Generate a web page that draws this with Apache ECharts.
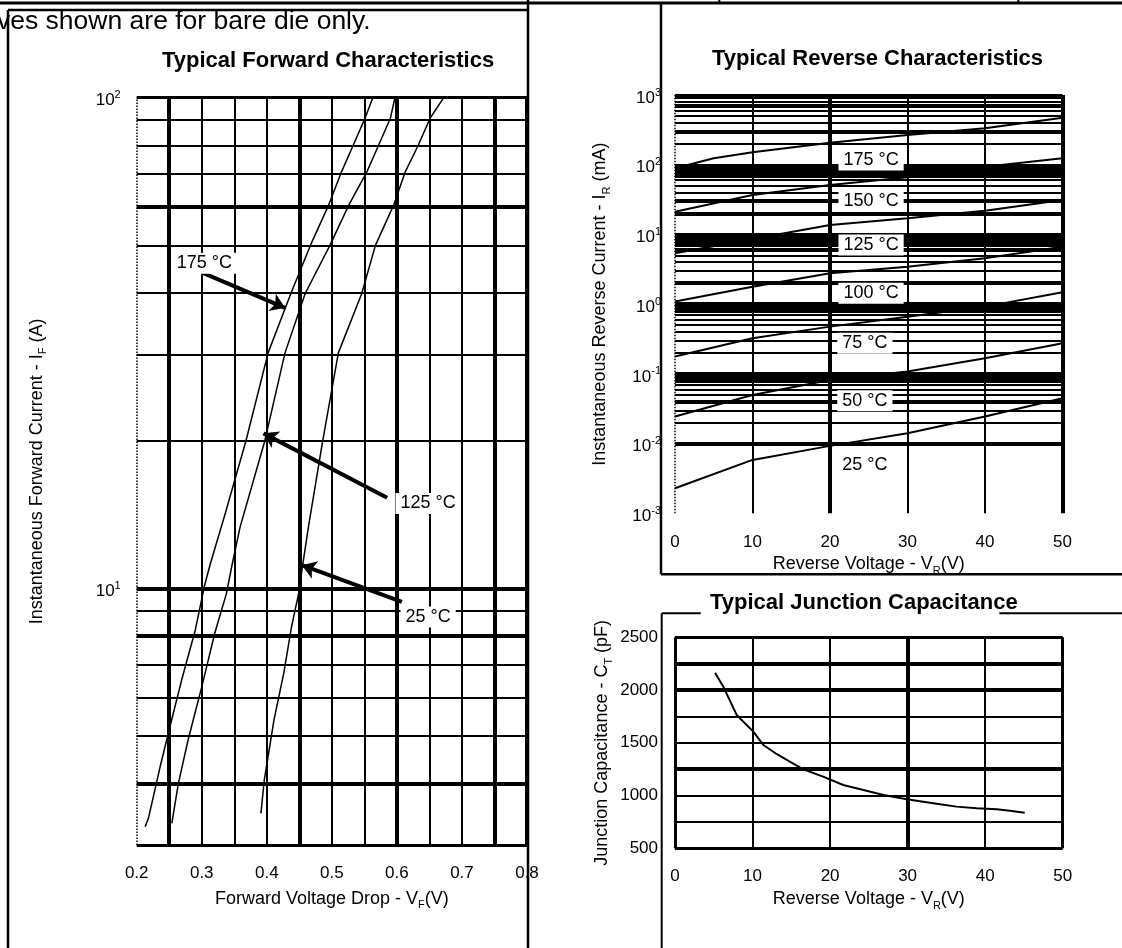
<!DOCTYPE html>
<html><head><meta charset="utf-8">
<script src="https://cdn.jsdelivr.net/npm/echarts/dist/echarts.min.js"></script>
<style>html,body{margin:0;padding:0;background:#fff}#c{width:1122px;height:948px}</style>
</head><body><div id="c"></div>
<script>
const FONT = "'Liberation Sans', Arial, Helvetica, sans-serif";

// ---------------- Typical Forward Characteristics ----------------
const fwdVoltGrid   = [0.25, 0.3, 0.35, 0.4, 0.45, 0.5, 0.55, 0.6, 0.65, 0.7, 0.75];
const fwdVoltThick  = [0.25, 0.45, 0.6, 0.75];
const fwdAmpGrid    = [4, 5, 6, 7, 8, 9, 10, 20, 30, 40, 50, 60, 70, 80, 90];
const fwdAmpThick   = [4, 8, 10, 60];

const fwd175Volt = [0.213, 0.218, 0.236, 0.251, 0.269, 0.290, 0.304, 0.313, 0.336, 0.368, 0.402, 0.437, 0.467, 0.495, 0.515, 0.533, 0.551, 0.563];
const fwd175Amp  = [3.27, 3.4, 4.33, 5.22, 6.5, 8.22, 10.1, 11.2, 14.2, 20, 30.2, 39.9, 50, 60.4, 70.7, 80.1, 90.8, 100];
const fwd125Volt = [0.254, 0.264, 0.279, 0.300, 0.320, 0.338, 0.346, 0.359, 0.397, 0.428, 0.459, 0.497, 0.526, 0.554, 0.572, 0.590, 0.597];
const fwd125Amp  = [3.32, 4.0, 4.91, 6.3, 8.1, 9.77, 11.07, 13.35, 20, 30.2, 39.9, 50, 60.4, 70.7, 80.1, 90.8, 100];
const fwd25Volt  = [0.391, 0.396, 0.411, 0.426, 0.438, 0.449, 0.454, 0.464, 0.486, 0.510, 0.546, 0.567, 0.595, 0.613, 0.633, 0.651, 0.672];
const fwd25Amp   = [3.48, 4.06, 5.39, 6.71, 8.35, 9.77, 10.9, 13.35, 20, 30.2, 39.9, 50, 60.4, 70.7, 80.1, 90.8, 100];

const fwdLabelText = ['175 °C', '125 °C', '25 °C'];
const fwdLabelAt   = [[0.304, 46.0], [0.648, 14.9], [0.648, 8.74]];
const fwdArrowFrom = [[0.3025, 43.9], [0.585, 15.3], [0.6077, 9.39]];
const fwdArrowTo   = [[0.428, 37.3], [0.395, 20.7], [0.454, 11.15]];

// ---------------- Typical Reverse Characteristics ----------------
const revVoltGrid  = [10, 20, 30, 40];
const revVoltThick = [20];
const revCurGrid = [
  0.002, 0.003, 0.004, 0.005, 0.006, 0.007, 0.008, 0.009, 0.01,
  0.02, 0.03, 0.04, 0.05, 0.06, 0.07, 0.08, 0.09, 0.1,
  0.2, 0.3, 0.4, 0.5, 0.6, 0.7, 0.8, 0.9, 1,
  2, 3, 4, 5, 6, 7, 8, 9, 10,
  20, 30, 40, 50, 60, 70, 80, 90, 100,
  200, 300, 400, 500, 600, 700, 800, 900
];
const revCurThick = [0.004, 0.009, 0.01, 0.04, 0.08, 0.09, 0.1, 0.8, 0.9, 1, 2, 6, 7, 8, 9, 10, 20, 30, 70, 80, 90, 300, 700];

const rev175Volt = [0, 5, 10, 20, 30, 40, 50];
const rev175Cur  = [88.8, 123.6, 151, 207, 267, 333, 473];
const revVolt    = [0, 10, 20, 30, 40, 50];
const rev150Cur  = [21.2, 36.8, 51.2, 66, 93.8, 123.6];
const rev125Cur  = [5.36, 8.6, 13.7, 17.0, 21.9, 31.2];
const rev100Cur  = [1.09, 1.78, 2.77, 3.45, 4.55, 6.68];
const rev75Cur   = [0.177, 0.324, 0.476, 0.662, 0.922, 1.48];
const rev50Cur   = [0.0244, 0.0499, 0.0819, 0.108, 0.168, 0.275];
const rev25Cur   = [0.00229, 0.00583, 0.00927, 0.0141, 0.0244, 0.0447];

const revLabelText = ['175 °C', '150 °C', '125 °C', '100 °C', '75 °C', '50 °C', '25 °C'];
const revLabelAt   = [[25.3, 117], [25.3, 30.2], [25.3, 7.06], [25.3, 1.43], [24.5, 0.275], [24.5, 0.0412], [24.5, 0.00493]];

// ---------------- Typical Junction Capacitance ----------------
const capVoltGrid  = [10, 20, 30, 40];
const capVoltThick = [30];
const capPfGrid    = [750, 1000, 1250, 1500, 1750, 2000, 2250];
const capPfThick   = [1250, 2000, 2250];
const capVolt = [5.16, 6.23, 7.95, 10.1, 11.4, 13.1, 14.8, 16.55, 19.1, 21.7, 24.3, 26.9, 29.9, 32.0, 34.2, 36.3, 38.9, 41.5, 43.2, 45.1];
const capPf   = [2165, 2032, 1764, 1606, 1479, 1394, 1321, 1249, 1179, 1100, 1053, 1006, 965, 942, 917, 895, 879, 870, 857, 838];

// ---------------- helpers ----------------
const zip = (xs, ys) => xs.map((x, i) => [x, ys[i]]);
const THIN = 2, THICK = 4;
function vLines(vals, thick) { return vals.map(v => ({ xAxis: v, lineStyle: { width: thick.includes(v) ? THICK : THIN } })); }
function hLines(vals, thick) { return vals.map(v => ({ yAxis: v, lineStyle: { width: thick.includes(v) ? THICK : THIN } })); }
function gridSeries(idx, lines) {
  return {
    type: 'line', xAxisIndex: idx, yAxisIndex: idx, data: [], silent: true, z: 1, clip: false,
    markLine: { silent: true, symbol: ['none', 'none'], label: { show: false }, animation: false,
      lineStyle: { color: '#000', type: 'solid', width: THIN }, emphasis: { disabled: true }, data: lines }
  };
}
function curve(idx, data, w) {
  return { type: 'line', xAxisIndex: idx, yAxisIndex: idx, data, showSymbol: false, symbol: 'none', silent: true, z: 3, clip: false,
    lineStyle: { color: '#000', width: w }, animation: false };
}
function labels(idx, at, texts) {
  return { type: 'scatter', xAxisIndex: idx, yAxisIndex: idx, symbolSize: 0, silent: true, z: 6, clip: false, animation: false,
    itemStyle: { opacity: 1, color: '#fff' },
    data: at.map((p, i) => [p[0], p[1], texts[i]]),
    label: { show: true, position: 'inside', formatter: p => p.data[2], color: '#000', opacity: 1, fontSize: 18, fontFamily: FONT,
      backgroundColor: '#fff', padding: [2, 5, 1, 5] } };
}
const supRich = {
  b: { fontSize: 17, fontFamily: FONT, color: '#000', lineHeight: 22 },
  s: { fontSize: 11, fontFamily: FONT, color: '#000', lineHeight: 12, verticalAlign: 'top' }
};
function powLabel(v) {
  const n = Math.log10(v);
  if (Math.abs(n - Math.round(n)) > 1e-6) return '';
  return '{b|10}{s|' + Math.round(n) + '}';
}
const nameStyle = { fontSize: 18, fontFamily: FONT, color: '#000', lineHeight: 24,
  rich: { sub: { fontSize: 11, fontFamily: FONT, color: '#000', lineHeight: 12, verticalAlign: 'bottom' } } };
const tickStyle = { fontSize: 17, fontFamily: FONT, color: '#000' };
const hideAxisBits = { axisLine: { show: false }, axisTick: { show: false }, splitLine: { show: false } };

const fwdGridLines = [
  ...vLines(fwdVoltGrid, fwdVoltThick), ...hLines(fwdAmpGrid, fwdAmpThick),
  { xAxis: 0.2, lineStyle: { width: 1.5, type: 'dotted' } }, { xAxis: 0.8, lineStyle: { width: 4 } },
  { yAxis: 3, lineStyle: { width: 3 } }, { yAxis: 100, lineStyle: { width: 3 } }
];
const revGridLines = [
  ...vLines(revVoltGrid, revVoltThick), ...hLines(revCurGrid, revCurThick),
  { xAxis: 0, lineStyle: { width: 1.5, type: 'dotted' } }, { xAxis: 50, lineStyle: { width: 4 } },
  { yAxis: 0.001, lineStyle: { width: 3 } }, { yAxis: 1000, lineStyle: { width: 3 } }
];
const capGridLines = [
  ...vLines(capVoltGrid, capVoltThick), ...hLines(capPfGrid, capPfThick),
  { xAxis: 0, lineStyle: { width: 3 } }, { xAxis: 50, lineStyle: { width: 3 } },
  { yAxis: 500, lineStyle: { width: 3 } }, { yAxis: 2500, lineStyle: { width: 3 } }
];

const arrowSeries = {
  type: 'line', xAxisIndex: 0, yAxisIndex: 0, data: [], silent: true, z: 5, clip: false,
  markLine: { silent: true, symbol: ['none', 'arrow'], symbolSize: 14, label: { show: false }, animation: false,
    lineStyle: { color: '#000', type: 'solid', width: 4 }, itemStyle: { color: '#000' },
    data: fwdArrowFrom.map((f, i) => [{ coord: f }, { coord: fwdArrowTo[i] }]) }
};

const chart = echarts.init(document.getElementById('c'), null, { renderer: 'canvas' });
const titleStyle = { fontSize: 22, fontWeight: 'bold', fontFamily: FONT, color: '#000' };
chart.setOption({
  backgroundColor: '#fff',
  animation: false,
  title: [
    { text: 'Typical Forward Characteristics', left: 162, top: 50, padding: 0, textStyle: titleStyle },
    { text: 'Typical Reverse Characteristics', left: 712, top: 48, padding: 0, textStyle: titleStyle },
    { text: 'Typical Junction Capacitance', left: 710, top: 592, padding: 0, textStyle: titleStyle }
  ],
  grid: [
    { left: 136.7, top: 97.7, width: 390.3, height: 747.3, containLabel: false, outerBoundsMode: 'none' },
    { left: 675, top: 95, width: 387.5, height: 418.3, containLabel: false, outerBoundsMode: 'none' },
    { left: 675, top: 637.3, width: 387.7, height: 211, containLabel: false, outerBoundsMode: 'none' }
  ],
  xAxis: [
    { gridIndex: 0, type: 'value', min: 0.2, max: 0.8, interval: 0.1, ...hideAxisBits,
      axisLabel: { ...tickStyle, margin: 20, formatter: v => v.toFixed(1) },
      name: 'Forward Voltage Drop - V{sub|F}(V)', nameLocation: 'middle', nameGap: 40, nameTextStyle: nameStyle },
    { gridIndex: 1, type: 'value', min: 0, max: 50, interval: 10, ...hideAxisBits,
      axisLabel: { ...tickStyle, margin: 21, formatter: v => String(v) },
      name: 'Reverse Voltage - V{sub|R}(V)', nameLocation: 'middle', nameGap: 38, nameTextStyle: nameStyle },
    { gridIndex: 2, type: 'value', min: 0, max: 50, interval: 10, ...hideAxisBits,
      axisLabel: { ...tickStyle, margin: 20, formatter: v => String(v) },
      name: 'Reverse Voltage - V{sub|R}(V)', nameLocation: 'middle', nameGap: 39, nameTextStyle: nameStyle }
  ],
  yAxis: [
    { gridIndex: 0, type: 'log', logBase: 10, min: 3, max: 100, ...hideAxisBits,
      axisLabel: { margin: 16, padding: [6, 0, 0, 0], formatter: powLabel, rich: supRich, showMinLabel: false },
      name: 'Instantaneous Forward Current - I{sub|F} (A)', nameLocation: 'middle', nameGap: 88, nameTextStyle: nameStyle },
    { gridIndex: 1, type: 'log', logBase: 10, min: 0.001, max: 1000, splitNumber: 6, ...hideAxisBits,
      axisLabel: { margin: 14, padding: [6, 0, 0, 0], formatter: powLabel, rich: supRich },
      name: 'Instantaneous Reverse Current - I{sub|R} (mA)', nameLocation: 'middle', nameGap: 63, nameTextStyle: nameStyle },
    { gridIndex: 2, type: 'value', min: 500, max: 2500, interval: 500, ...hideAxisBits,
      axisLabel: { ...tickStyle, margin: 17, padding: [7, 0, 0, 0], formatter: v => String(v) },
      name: 'Junction Capacitance - C{sub|T} (pF)', nameLocation: 'middle', nameGap: 61, nameTextStyle: nameStyle }
  ],
  series: [
    gridSeries(0, fwdGridLines),
    curve(0, zip(fwd175Volt, fwd175Amp), 1.5),
    curve(0, zip(fwd125Volt, fwd125Amp), 1.5),
    curve(0, zip(fwd25Volt, fwd25Amp), 1.5),
    arrowSeries,
    labels(0, fwdLabelAt, fwdLabelText),

    gridSeries(1, revGridLines),
    curve(1, zip(rev175Volt, rev175Cur), 2),
    curve(1, zip(revVolt, rev150Cur), 2),
    curve(1, zip(revVolt, rev125Cur), 2),
    curve(1, zip(revVolt, rev100Cur), 2),
    curve(1, zip(revVolt, rev75Cur), 2),
    curve(1, zip(revVolt, rev50Cur), 2),
    curve(1, zip(revVolt, rev25Cur), 2),
    labels(1, revLabelAt, revLabelText),

    gridSeries(2, capGridLines),
    curve(2, zip(capVolt, capPf), 2)
  ],
  graphic: [
    { type: 'line', silent: true, shape: { x1: 0, y1: 3, x2: 1122, y2: 3 }, style: { stroke: '#000', lineWidth: 3 } },
    { type: 'line', silent: true, shape: { x1: 719.3, y1: 0, x2: 719.3, y2: 4 }, style: { stroke: '#000', lineWidth: 2 } },
    { type: 'line', silent: true, shape: { x1: 1018.3, y1: 0, x2: 1018.3, y2: 4 }, style: { stroke: '#000', lineWidth: 2 } },
    // left panel frame
    { type: 'line', silent: true, shape: { x1: 8, y1: 10, x2: 528, y2: 10 }, style: { stroke: '#000', lineWidth: 2.5 } },
    { type: 'line', silent: true, shape: { x1: 8, y1: 10, x2: 8, y2: 948 }, style: { stroke: '#000', lineWidth: 2.5 } },
    { type: 'line', silent: true, shape: { x1: 528, y1: 0, x2: 528, y2: 948 }, style: { stroke: '#000', lineWidth: 2.5 } },
    // right upper panel frame
    { type: 'line', silent: true, shape: { x1: 661, y1: 4, x2: 661, y2: 574.3 }, style: { stroke: '#000', lineWidth: 2.5 } },
    { type: 'line', silent: true, shape: { x1: 661, y1: 574.3, x2: 1122, y2: 574.3 }, style: { stroke: '#000', lineWidth: 2.5 } },
    // right lower panel frame
    { type: 'line', silent: true, shape: { x1: 661.7, y1: 613.3, x2: 661.7, y2: 948 }, style: { stroke: '#000', lineWidth: 2 } },
    { type: 'line', silent: true, shape: { x1: 661.7, y1: 613.3, x2: 700.7, y2: 613.3 }, style: { stroke: '#000', lineWidth: 2 } },
    { type: 'line', silent: true, shape: { x1: 999.3, y1: 613.3, x2: 1122, y2: 613.3 }, style: { stroke: '#000', lineWidth: 2 } },
    { type: 'text', silent: true, x: -3, y: 21.5, z: 10,
      style: { text: 'ves shown are for bare die only.', fontSize: 26.5, fontFamily: FONT, fill: '#000', verticalAlign: 'middle', align: 'left' } }
  ]
});
</script></body></html>
